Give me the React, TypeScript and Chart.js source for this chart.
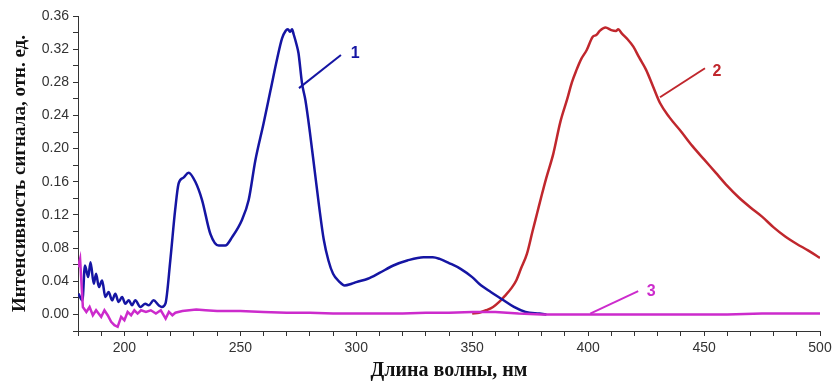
import { useEffect, useRef } from "react";
import { Chart, registerables } from "chart.js";

Chart.register(...registerables);

// Curve 1 (blue)
const blueX = [180.2, 181.9, 183, 184.4, 185.4, 186.8, 187.8, 189, 190.4, 191.8, 193.2, 194.7, 196.1, 197.5, 199, 200.4, 201.9, 203.3, 204.7, 206.9, 209, 210.5, 212.6, 214.8, 216.2, 217.7, 219.8, 221.9, 223.4, 225.5, 227.7, 230.6, 233.5, 237.1, 240.7, 243.5, 246.4, 250.7, 253.6, 256.5, 260, 263, 266, 268, 269.5, 270.5, 271.5, 272.3, 273, 274.3, 275.1, 276.6, 278.1, 280, 282, 284, 286, 288, 290, 292.5, 295, 298, 300, 305, 310, 316, 322, 329, 333, 336, 340, 345, 350, 353, 358, 363, 368, 373, 379, 382];
const blueY = [0.025, 0.017, 0.059, 0.045, 0.063, 0.037, 0.049, 0.033, 0.041, 0.021, 0.027, 0.017, 0.025, 0.015, 0.021, 0.013, 0.017, 0.011, 0.017, 0.009, 0.013, 0.011, 0.017, 0.011, 0.009, 0.013, 0.065, 0.126, 0.158, 0.165, 0.171, 0.16, 0.138, 0.097, 0.083, 0.083, 0.093, 0.114, 0.138, 0.186, 0.23, 0.27, 0.31, 0.333, 0.342, 0.344, 0.341, 0.344, 0.338, 0.325, 0.315, 0.279, 0.258, 0.22, 0.175, 0.13, 0.09, 0.065, 0.049, 0.04, 0.035, 0.037, 0.039, 0.043, 0.05, 0.059, 0.065, 0.069, 0.069, 0.067, 0.062, 0.055, 0.045, 0.037, 0.027, 0.018, 0.009, 0.003, 0.001, 0.0];

// Curve 2 (red)
const redX = [350, 353, 356, 359, 362, 364, 367, 369, 371, 373.6, 376, 378, 380, 382, 385, 388, 391, 393, 395, 397, 399.4, 402, 403.5, 405, 407.5, 410, 412, 413, 414.5, 417, 419.5, 422, 425, 428, 431, 435, 440, 445, 450, 455, 460, 465, 470, 475, 480, 485, 490, 495, 500];
const redY = [0.001, 0.002, 0.005, 0.009, 0.016, 0.022, 0.032, 0.041, 0.055, 0.073, 0.1, 0.122, 0.144, 0.165, 0.194, 0.232, 0.26, 0.28, 0.295, 0.308, 0.319, 0.335, 0.337, 0.342, 0.346, 0.343, 0.342, 0.344, 0.339, 0.332, 0.323, 0.31, 0.295, 0.275, 0.255, 0.238, 0.221, 0.203, 0.187, 0.171, 0.155, 0.141, 0.129, 0.118, 0.105, 0.094, 0.085, 0.077, 0.068];

// Curve 3 (magenta)
const magX = [180, 180.9, 182.1, 183.6, 185, 186.4, 187.8, 190, 191.4, 192.8, 194.3, 195.7, 197.1, 198.6, 200, 201.4, 202.9, 204.3, 205.7, 207.2, 209.3, 211.4, 213.6, 215.7, 217.8, 219.2, 220.7, 222, 225, 228, 231, 235, 240, 250, 260, 270, 280, 290, 300, 310, 320, 330, 340, 350, 355, 360, 365, 370, 380, 400, 420, 440, 460, 475, 500];
const magY = [0.057, 0.067, 0.009, 0.003, 0.009, -0.001, 0.005, -0.003, 0.005, -0.001, -0.009, -0.013, -0.015, -0.003, -0.007, 0.003, -0.001, 0.005, 0.001, 0.005, 0.003, 0.005, 0.001, 0.005, -0.005, 0.003, -0.001, 0.002, 0.004, 0.005, 0.006, 0.005, 0.004, 0.004, 0.003, 0.002, 0.002, 0.001, 0.001, 0.001, 0.001, 0.002, 0.002, 0.003, 0.003, 0.003, 0.002, 0.001, 0.0, 0.0, 0.0, 0.0, 0.0, 0.001, 0.001];

// Curve labels and their leader lines (data coordinates)
const labelTexts = ["1", "2", "3"];
const labelColors = ["#1515a3", "#c0272d", "#cc2bcc"];
const leaderFromX = [275.3, 431, 400.9];
const leaderFromY = [0.273, 0.262, 0.001];
const leaderToX = [293.4, 450.4, 421.6];
const leaderToY = [0.313, 0.297, 0.028];
const labelX = [299.6, 455.6, 427.2];
const labelY = [0.315, 0.293, 0.028];

const xTitle = "Длина волны, нм";
const yTitle = "Интенсивность сигнала, отн. ед.";

const zip = (xs: number[], ys: number[]) => xs.map((x, i) => ({ x, y: ys[i] }));

const annotationPlugin = {
  id: "curveLabels",
  afterDatasetsDraw(chart: any) {
    const { ctx, scales } = chart;
    const xs = scales.x;
    const ys = scales.y;
    ctx.save();
    for (let i = 0; i < labelTexts.length; i++) {
      ctx.strokeStyle = labelColors[i];
      ctx.lineWidth = 2;
      ctx.beginPath();
      ctx.moveTo(xs.getPixelForValue(leaderFromX[i]), ys.getPixelForValue(leaderFromY[i]));
      ctx.lineTo(xs.getPixelForValue(leaderToX[i]), ys.getPixelForValue(leaderToY[i]));
      ctx.stroke();
      ctx.fillStyle = labelColors[i];
      ctx.font = "bold 16px 'Liberation Sans', Arial, sans-serif";
      ctx.textAlign = "center";
      ctx.textBaseline = "middle";
      ctx.fillText(labelTexts[i], xs.getPixelForValue(labelX[i]), ys.getPixelForValue(labelY[i]));
    }
    ctx.restore();
  },
};

export default function App() {
  const ref = useRef<HTMLCanvasElement | null>(null);
  useEffect(() => {
    document.body.style.margin = "0";
    const canvas = ref.current;
    if (!canvas) return;
    const tickFont = { family: "'Liberation Sans', Arial, sans-serif", size: 14 };
    const xTitleFont = { family: "'Liberation Serif', 'Times New Roman', serif", size: 20, weight: "bold" as const, lineHeight: 1 };
    const yTitleFont = { family: "'Liberation Serif', 'Times New Roman', serif", size: 19, weight: "bold" as const, lineHeight: 1 };
    const chart = new Chart(canvas, {
      type: "line",
      data: {
        datasets: [
          { label: "3", data: zip(magX, magY), borderColor: "#cc2bcc", borderWidth: 2.5, pointRadius: 0, tension: 0 },
          { label: "1", data: zip(blueX, blueY), borderColor: "#1515a3", borderWidth: 2.5, pointRadius: 0, cubicInterpolationMode: "monotone" },
          { label: "2", data: zip(redX, redY), borderColor: "#c0272d", borderWidth: 2.5, pointRadius: 0, cubicInterpolationMode: "monotone" },
        ],
      },
      options: {
        animation: false,
        responsive: false,
        maintainAspectRatio: false,
        layout: { padding: { left: 0, right: 17, top: 16, bottom: 0 } },
        plugins: { legend: { display: false }, tooltip: { enabled: false } },
        scales: {
          x: {
            type: "linear",
            min: 180,
            max: 500,
            afterFit: (s: any) => { s.height = 50; },
            grid: { drawOnChartArea: false, drawTicks: true, tickLength: 5, color: "#333", tickColor: "#333" },
            border: { display: true, color: "#333", width: 1 },
            ticks: {
              stepSize: 10,
              autoSkip: false,
              maxRotation: 0,
              padding: 4,
              color: "#333",
              font: tickFont,
              callback: (v: any) => (Math.round(v) % 50 === 0 ? String(Math.round(v)) : ""),
            },
            title: { display: true, text: xTitle, color: "#111", font: xTitleFont, padding: { top: 0, bottom: 0 } },
          },
          y: {
            min: -0.02,
            max: 0.36,
            afterFit: (s: any) => { s.width = 78; },
            grid: { drawOnChartArea: false, drawTicks: true, tickLength: 5, color: "#333", tickColor: "#333" },
            border: { display: true, color: "#333", width: 1 },
            ticks: {
              stepSize: 0.02,
              autoSkip: false,
              padding: 4,
              color: "#333",
              font: tickFont,
              callback: (v: any) => {
                const k = Math.round(Number(v) * 100);
                return k % 4 === 0 ? (k / 100).toFixed(2) : "";
              },
            },
            title: { display: true, text: yTitle, color: "#111", font: yTitleFont, padding: { top: 11, bottom: 0 } },
          },
        },
      },
      plugins: [annotationPlugin],
    });
    return () => chart.destroy();
  }, []);
  return (
    <div style={{ position: "fixed", left: 0, top: 0, width: 837, height: 381, background: "#fff" }}>
      <canvas ref={ref} width={837} height={381} style={{ width: 837, height: 381 }} />
    </div>
  );
}
